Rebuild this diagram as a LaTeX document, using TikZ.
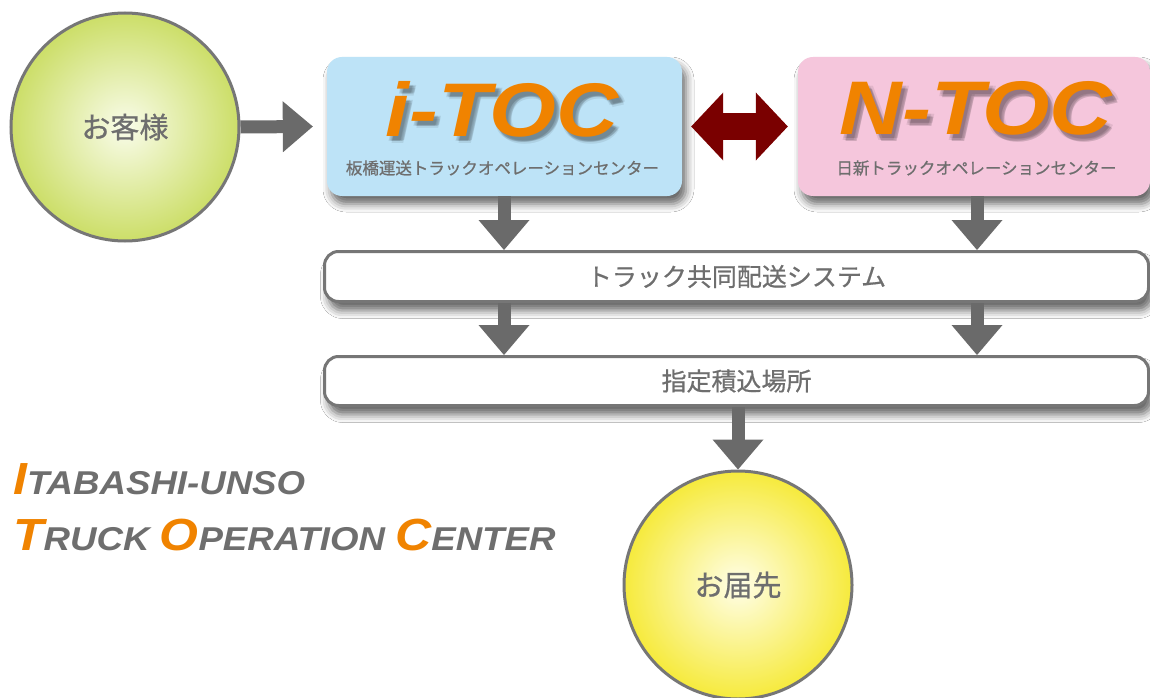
\documentclass[tikz,border=0pt]{standalone}
\usepackage{fontspec}
\setmainfont{Liberation Sans}
\newfontfamily\jp{Noto Sans CJK JP}[FakeBold=0.7]
\usetikzlibrary{arrows.meta,shadows.blur}
\definecolor{txtgray}{HTML}{6E6E6E}
\definecolor{arrgray}{HTML}{6A6A6A}
\definecolor{tocorange}{HTML}{F08300}
\definecolor{tocblue}{HTML}{BDE3F7}
\definecolor{tocpink}{HTML}{F5C6DC}
\definecolor{darkarrow}{HTML}{7A0000}
\definecolor{boxline}{HTML}{767676}
\definecolor{greenin}{HTML}{F9FCEA}
\definecolor{greenout}{HTML}{CCDE68}
\definecolor{yellowin}{HTML}{FFFEE8}
\definecolor{yellowout}{HTML}{F6EA3C}
\newcommand\itocword{\scalebox{1.13}[1]{i-TOC}}
\newcommand\ntocword{\scalebox{1.14}[1]{N-TOC}}
\tikzset{
  tocbox/.style={rectangle, rounded corners=15pt, inner sep=0pt, minimum height=139pt,
    blur shadow={shadow xshift=4pt, shadow yshift=-8pt, shadow blur radius=8pt, shadow opacity=60}},
  flowbox/.style={rectangle, rounded corners=14pt, draw=boxline, line width=3pt, fill=white,
    inner sep=0pt, minimum width=824pt, text=txtgray, font=\jp\fontsize{25}{25}\selectfont,
    blur shadow={shadow xshift=4pt, shadow yshift=-9pt, shadow blur radius=8pt, shadow opacity=60}},
  ball/.style={circle, draw=boxline, line width=3pt, minimum size=228pt, inner sep=0pt,
    text=txtgray, font=\jp\fontsize{29}{29}\selectfont},
  titletext/.style={anchor=base, inner sep=0pt, font=\bfseries\itshape\fontsize{76}{76}\selectfont},
  titleshadow/.style={titletext, text=black, opacity=0.08},
  subtext/.style={inner sep=0pt, text=txtgray, font=\jp\fontsize{16.5}{16.5}\selectfont},
  flowarrow/.style={draw=arrgray, line width=13pt, -{Triangle[width=51pt,length=30pt,line width=0pt]}},
  twoarrow/.style={draw=darkarrow, line width=27pt,
    {Triangle[width=68pt,length=32pt,line width=0pt]}-{Triangle[width=68pt,length=32pt,line width=0pt]}},
  brand/.style={anchor=base west, inner sep=0pt, text=txtgray, font=\bfseries\itshape}
}
\begin{document}
\begin{tikzpicture}[x=1pt,y=-1pt]
\useasboundingbox[fill=white] (0,0) rectangle (1150,698);

% circles
\node[ball, inner color=greenin, outer color=greenout] (cust) at (125,127) {お客様};
\node[ball, inner color=yellowin, outer color=yellowout] (dest) at (738,585) {お届先};

% TOC boxes
\node[tocbox, fill=tocblue, minimum width=355pt] (itoc) at (504.5,126.5) {};
\node[tocbox, fill=tocpink, minimum width=352pt] (ntoc) at (974,126.5) {};

% title shadows
\foreach \dx/\dy [count=\k] in {3/4,5/6,2/5,6/4,4/5,5/7} {
  \node[titleshadow] (itocsh\k) at (502+\dx,136+\dy) {\itocword};
  \node[titleshadow] (ntocsh\k) at (976+\dx,135+\dy) {\ntocword};
}
\node[titletext, text=tocorange] (itoct) at (502,136) {\itocword};
\node[titletext, text=tocorange] (ntoct) at (976,135) {\ntocword};
\node[subtext] (itocs) at (502.5,168) {板橋運送トラックオペレーションセンター};
\node[subtext] (ntocs) at (976.5,168) {日新トラックオペレーションセンター};

% flow boxes
\node[flowbox, minimum height=50pt] (sys) at (736.5,276.5) {トラック共同配送システム};
\node[flowbox, minimum height=49pt] (pick) at (736.5,381) {指定積込場所};

% column guides
\coordinate (lx) at (504,0);
\coordinate (rx) at (977,0);

% arrows
\draw[flowarrow] (cust.east) -- ([xshift=-14pt]itoc.west);
\draw[twoarrow] ([xshift=9pt]itoc.east) -- ([xshift=-10pt]ntoc.west);
\draw[flowarrow] (itoc.south -| lx) -- (sys.north -| lx);
\draw[flowarrow] (ntoc.south -| rx) -- (sys.north -| rx);
\draw[flowarrow] (sys.south -| lx) -- (pick.north -| lx);
\draw[flowarrow] (sys.south -| rx) -- (pick.north -| rx);
\draw[flowarrow] (pick.south -| dest.north) -- (dest.north);

% brand text
\node[brand] (brand1) at (13,494) {\scalebox{1.11}[1]{\textcolor{tocorange}{\fontsize{45}{45}\selectfont I}\fontsize{33}{33}\selectfont TABASHI-UNSO}};
\node[brand] (brand2) at (13,550) {\scalebox{1.11}[1]{\textcolor{tocorange}{\fontsize{45}{45}\selectfont T}\fontsize{33}{33}\selectfont RUCK \textcolor{tocorange}{\fontsize{45}{45}\selectfont O}PERATION \textcolor{tocorange}{\fontsize{45}{45}\selectfont C}ENTER}};
\end{tikzpicture}
\end{document}
